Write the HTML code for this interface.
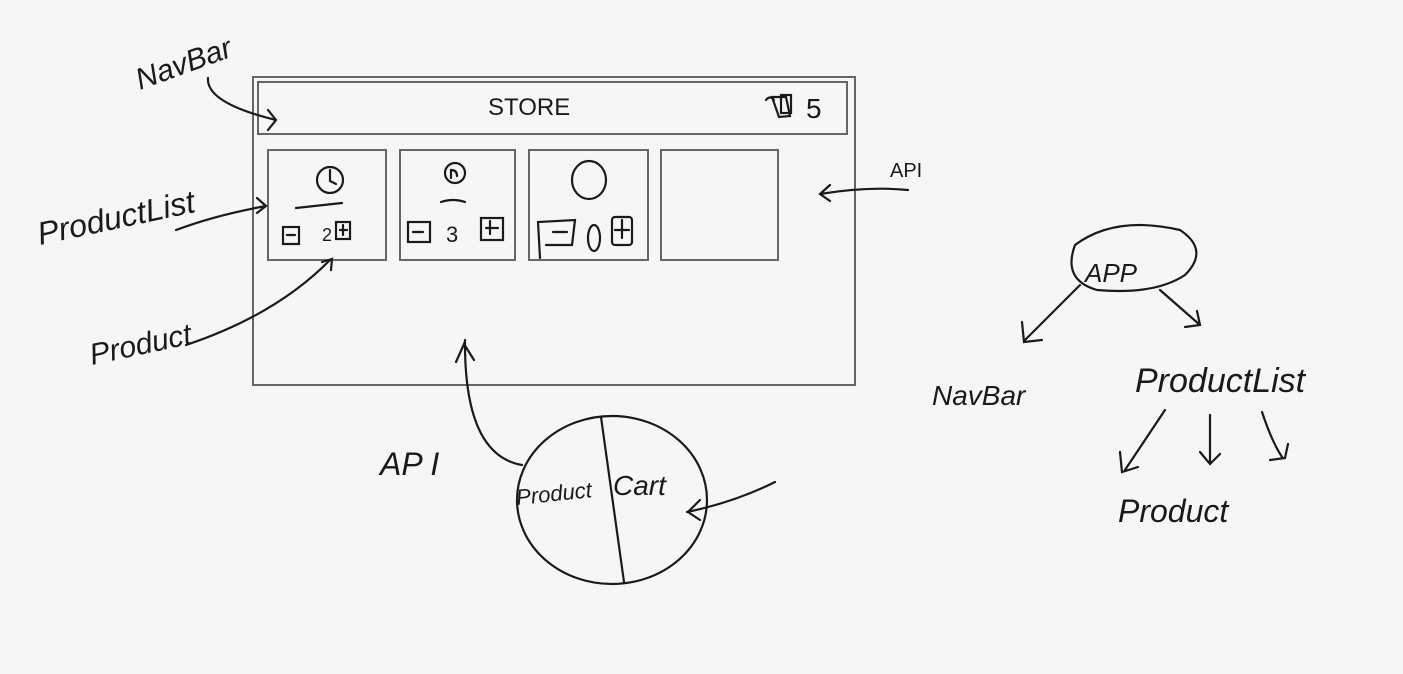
<!DOCTYPE html>
<html><head><meta charset="utf-8"><style>
html,body{margin:0;padding:0;background:#f6f6f6;}
svg{display:block}
text{font-family:"Liberation Sans",sans-serif;fill:#1a1a1a;}
</style></head><body>
<svg width="1403" height="674" viewBox="0 0 1403 674" xmlns="http://www.w3.org/2000/svg">
<rect width="1403" height="674" fill="#f6f6f6"/>
<g fill="none" stroke="#666" stroke-width="2">
<rect x="253" y="77" width="602" height="308"/>
<rect x="258" y="82" width="589" height="52"/>
<rect x="268" y="150" width="118" height="110"/>
<rect x="400" y="150" width="115" height="110"/>
<rect x="529" y="150" width="119" height="110"/>
<rect x="661" y="150" width="117" height="110"/>
</g>
<g fill="none" stroke="#1a1a1a" stroke-width="2.2" stroke-linecap="round">
<!-- product 1 -->
<circle cx="330" cy="180" r="13"/><path d="M330 170 L330 181 L336 184"/>
<path d="M296 208 L342 203"/>
<rect x="283" y="227" width="16" height="17"/><path d="M287 235h8"/>
<rect x="336" y="222" width="14" height="17"/><path d="M340 230h7M343 225v10"/>
<!-- product 2 -->
<circle cx="455" cy="173" r="10"/><path d="M451 178v-8 q6 0 6 6"/>
<path d="M441 202 q12-4 24 0"/>
<rect x="408" y="222" width="22" height="20"/><path d="M413 232h10"/>
<rect x="481" y="218" width="22" height="22"/><path d="M486 228h12M490 221v13"/>
<!-- product 3 -->
<ellipse cx="589" cy="180" rx="17" ry="19"/>
<path d="M540 258 L538 222 L575 220 L572 245 L546 245"/><path d="M553 232h14"/>
<ellipse cx="594" cy="238" rx="6" ry="13"/>
<rect x="612" y="217" width="20" height="28" rx="3"/><path d="M615 230h14M622 220v18"/>
<!-- cart -->
<path d="M766 100 q4-5 8 0 M772 97 L786 97 L790 116 L779 117 Z"/><rect x="781" y="95" width="10" height="18"/>
<!-- navbar arrow -->
<path d="M208 78 q-2 25 68 42 M268 110 l8 10 l-8 10"/>
<!-- productlist arrow -->
<path d="M176 230 q40-15 90-24 M257 198 l9 8 l-9 7"/>
<!-- product arrow -->
<path d="M186 345 q90-30 144-85 M322 262 l10-3 l-1 11"/>
<!-- API right arrow -->
<path d="M908 190 q-40-4 -88 4 M830 185 l-10 9 l10 7"/>
<!-- API bottom arrow -->
<path d="M522 465 q-58-10 -57-125 M456 362 l8-18 l10 16"/>
<!-- circle -->
<ellipse cx="612" cy="500" rx="95" ry="84"/>
<path d="M601 417 L624 582"/>
<path d="M775 482 q-40 20 -88 30 M700 500 l-12 12 l12 8"/>
<!-- APP -->
<path d="M1075 245 q40-30 105-15 q30 20 5 45 q-30 20 -88 15 q-35 -10 -22-45"/>
<path d="M1080 285 L1025 340 M1022 322 l2 20 l18-2"/>
<path d="M1160 290 L1200 325 M1185 327 l15-2 l-3-14"/>
<path d="M1165 410 L1125 470 M1120 452 l2 20 l16-5"/>
<path d="M1210 415 L1210 462 M1200 452 l10 12 l10-10"/>
<path d="M1262 412 q10 30 20 45 M1270 460 l15-2 l3-14"/>
</g>
<g font-size="22">
<text x="488" y="115" font-size="24">STORE</text>
<text x="806" y="118" font-size="28">5</text>
<text x="322" y="241" font-size="18">2</text>
<text x="446" y="242" font-size="22">3</text>
<text x="140" y="90" font-size="30" transform="rotate(-20 140 90)" font-style="italic">NavBar</text>
<text x="40" y="245" font-size="32" transform="rotate(-12 40 245)" font-style="italic">ProductList</text>
<text x="92" y="365" font-size="30" transform="rotate(-12 92 365)" font-style="italic">Product</text>
<text x="890" y="177" font-size="20">API</text>
<text x="380" y="475" font-size="32" font-style="italic">AP I</text>
<text x="517" y="505" font-size="22" font-style="italic" transform="rotate(-6 517 505)">Product</text>
<text x="613" y="495" font-size="28" font-style="italic">Cart</text>
<text x="1085" y="282" font-size="26" font-style="italic">APP</text>
<text x="932" y="405" font-size="28" font-style="italic">NavBar</text>
<text x="1135" y="392" font-size="34" font-style="italic">ProductList</text>
<text x="1118" y="522" font-size="32" font-style="italic">Product</text>
</g>
</svg>
</body></html>
